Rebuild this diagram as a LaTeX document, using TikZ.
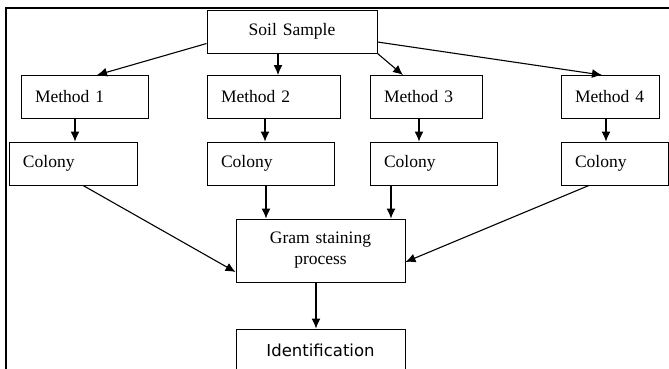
\documentclass[tikz,border=0pt]{standalone}
\usepackage{fontspec}
\setmainfont{Liberation Serif}
\newfontfamily\identfont{DejaVu Sans}
\usepackage{tikz}
\usetikzlibrary{arrows.meta,calc}

\begin{document}
\begin{tikzpicture}[
x=1pt,
y=-1pt,
box/.style={
  draw,
  rectangle,
  line width=0.9pt,
  minimum height=43pt,
  inner xsep=14pt,
  inner ysep=0pt,
  text width=#1,
  align=left,
  font=\fontsize{17.5}{21}\selectfont
  },
link/.style={
  ->,
  line width=1.1pt
  },
>={Latex[length=10pt,width=9pt]}
]
\useasboundingbox (0,0) rectangle (669,369);
\draw[line width=1.4pt] (6,369) -- (6,8) -- (669,8);

\node[box=142pt, align=center] (soil) at (292,31.5) {Soil Sample};

\node[box=99pt] (m1) at (84.5,97) {Method 1};
\node[box=105pt] (m2) at (273.5,97) {Method 2};
\node[box=84pt] (m3) at (426,97) {Method 3};
\node[box=70pt] (m4) at (610,97) {Method 4};

\node[box=100pt] (c1) at (73,163.5) {Colony};
\node[box=99pt] (c2) at (270.5,163.5) {Colony};
\node[box=99pt] (c3) at (433.5,163.5) {Colony};
\node[box=79pt] (c4) at (614.5,163.5) {Colony};

\node[box=141pt, align=center, minimum height=63pt] (gram) at (320.5,250.5)
  {Gram staining\\process};
\node[box=141pt, align=center, font=\identfont\fontsize{16.5}{20}\selectfont]
  (ident) at (320.5,350.5) {Identification};

\draw[link] (soil.188) -- ([xshift=12.5pt]m1.north);
\draw[link] (soil.south -| 278,0) -- (m2.north -| 278,0);
\draw[link] (soil.south east) -- ([xshift=-23pt]m3.north);
\draw[link] (soil.353) -- ([xshift=-8pt]m4.north);

\foreach \i/\x in {1/75,2/265,3/419,4/606}
{
  \draw[link] (m\i.south -| \x,0) -- (c\i.north -| \x,0);
}

\draw[link] ([xshift=10pt]c1.south) -- ([yshift=-21.5pt]gram.west);
\draw[link] (c2.south -| 266,0) -- (gram.north -| 266,0);
\draw[link] (c3.south -| 391,0) -- (gram.north -| 391,0);
\draw[link] ([xshift=-25.5pt]c4.south) -- ([yshift=-11.5pt]gram.east);
\draw[link] (gram.south -| 316,0) -- (ident.north -| 316,0);
\end{tikzpicture}
\end{document}
